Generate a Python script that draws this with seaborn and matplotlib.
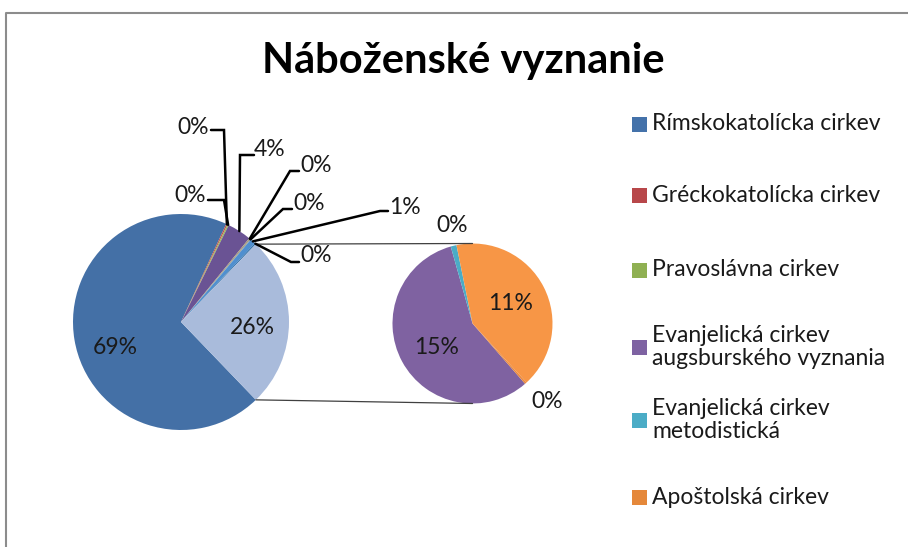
import seaborn as sns
import matplotlib.pyplot as plt
import numpy as np
from matplotlib.patches import Rectangle

# ----------------------------
# Data
# ----------------------------
legend_labels = ['Rímskokatolícka cirkev',
                 'Gréckokatolícka cirkev',
                 'Pravoslávna cirkev',
                 'Evanjelická cirkev\naugsburského vyznania',
                 'Evanjelická cirkev\nmetodistická',
                 'Apoštolská cirkev']
legend_colors = ['#4472AA', '#B8474A', '#8FB052', '#7E62A2', '#4BACC6', '#E5883A']

# slices kept in the big pie (clockwise), the rest go to the small pie
main_values = [69.0, 0.2, 0.2, 3.6, 0.2, 0.1, 0.8, 0.2]
main_colors = ['#4470A6', '#C0504D', '#9BBB59', '#6A5394', '#A79C7A', '#8B8B8B', '#4F8FCF', '#2F6FA8']
other_color = '#A9BBDB'

second_values = [14.6, 0.3, 10.6, 0.1]
second_colors = ['#7F62A1', '#4BACC6', '#F79646', '#E98A40']

title = 'Náboženské vyznanie'

# ----------------------------
# Layout (pixels, y measured from top)
# ----------------------------
W, H = 908, 547
FONT = ['Lato', 'DejaVu Sans']


def px(x, y):
    return x, H - y


sns.set_theme(style='white')
plt.rcParams['font.family'] = FONT

fig = plt.figure(figsize=(W / 100, H / 100), dpi=100)
ax = fig.add_axes([0, 0, 1, 1])

total = sum(main_values) + sum(second_values)
other = sum(second_values)

# big pie
c1, r1 = px(181, 322), 108
start1 = -other / total * 360 / 2
wedges1, _ = ax.pie(main_values + [other], colors=main_colors + [other_color],
                    startangle=start1, counterclock=False, center=c1, radius=r1,
                    wedgeprops=dict(linewidth=0))

# small pie
c2, r2 = px(472.5, 323.5), 80
wedges2, _ = ax.pie(second_values, colors=second_colors, startangle=-48.9,
                    counterclock=False, center=c2, radius=r2,
                    wedgeprops=dict(linewidth=0))

# connector lines from "other" slice to small pie
ow = wedges1[-1]
for ang, ty in [(ow.theta2, c2[1] + r2), (ow.theta1, c2[1] - r2)]:
    a = np.deg2rad(ang)
    ax.plot([c1[0] + r1 * np.cos(a), c2[0]], [c1[1] + r1 * np.sin(a), ty],
            color='#404040', lw=0.9, zorder=1)


def pct(v):
    return f'{v / total * 100:.0f}%'


def anchor(w, c, r):
    a = np.deg2rad((w.theta1 + w.theta2) / 2)
    return c[0] + r * np.cos(a), c[1] + r * np.sin(a)


lab_kw = dict(fontsize=16.5, color='#1a1a1a', ha='center', va='center')

# inside labels
ax.text(*px(115, 348), pct(main_values[0]), **lab_kw)
ax.text(*px(252, 327), pct(other), **lab_kw)
ax.text(*px(437, 348), pct(second_values[0]), **lab_kw)
ax.text(*px(511, 304), pct(second_values[2]), **lab_kw)
ax.text(*px(452, 225), pct(second_values[1]), **lab_kw)
ax.text(*px(547, 402), pct(second_values[3]), **lab_kw)

# leader-line labels for the thin slices of the big pie
small_text = [(193, 127), (190, 195), (270, 150), (316, 165), (309, 204), (405, 208), (316, 256)]
small_elbow = [[(211, 130), (224, 130)], [(208, 200), (224, 200)], [(254, 155), (240, 155)],
               [(299, 171), (290, 171)], [(292, 209), (283, 209)], [(388, 211), (380, 211)],
               [(299, 262), (291, 262)]]
for i, (tp, el) in enumerate(zip(small_text, small_elbow), start=1):
    ax.text(*px(*tp), pct(main_values[i]), **lab_kw)
    pts = [px(*p) for p in el] + [anchor(wedges1[i], c1, r1)]
    xs, ys = zip(*pts)
    ax.plot(xs, ys, color='black', lw=1.8, zorder=3, solid_joinstyle='miter')

# title
ax.text(*px(463, 61), title, fontsize=30, fontweight='bold', ha='center', va='center', color='black')

# legend
leg_y = [124, 195, 270, 347, 420, 497]
for lbl, col, y in zip(legend_labels, legend_colors, leg_y):
    x0, y0 = px(632, y + 8)
    ax.add_patch(Rectangle((x0, y0), 15, 15, color=col, lw=0))
    ax.text(*px(652, y), lbl, fontsize=16.5, color='#1a1a1a', ha='left', va='center',
            linespacing=1.15)

# chart frame (left and top edges visible)
ax.plot([6, 6, W], [0, H - 13, H - 13], color='#8c8c8c', lw=1.5)

ax.set_xlim(0, W)
ax.set_ylim(0, H)
ax.set_aspect('equal')
ax.axis('off')

plt.savefig('out.png', dpi=100)
plt.close()
